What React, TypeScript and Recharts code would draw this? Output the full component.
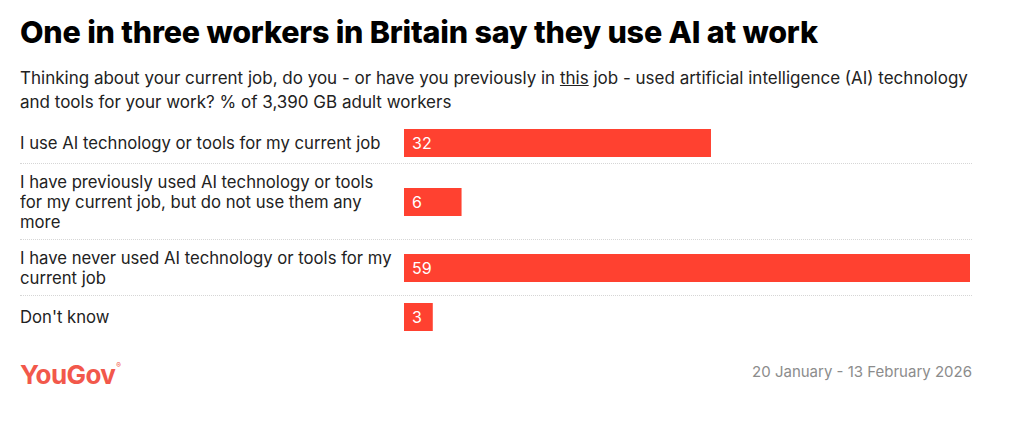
import React from 'react'
import { BarChart, Bar, XAxis, YAxis, LabelList } from 'recharts'

// answers, as they are drawn (line breaks as in the reference)
const answers = [
  'I use AI technology or tools for my current job',
  'I have previously used AI technology or tools\nfor my current job, but do not use them any\nmore',
  'I have never used AI technology or tools for my\ncurrent job',
  "Don't know",
]
const shares = [32, 6, 59, 3]

const RED = '#ff4130'
const FONT = 'Inter, "Noto Sans", sans-serif'

// chart height of a row; the dotted rule below adds 1px
const rowHeight = (label: string) => Math.max(41, label.split('\n').length * 20 + 15)

const LabelTick = (props: any) => {
  const { y, payload } = props
  const lines = String(payload.value).split('\n')
  return (
    <text x={0} y={y} fill="#222" fontSize={16.7} fontFamily={FONT}>
      {lines.map((l, i) => (
        <tspan key={i} x={0} y={y + (i - (lines.length - 1) / 2) * 20} dominantBaseline="central">
          {l}
        </tspan>
      ))}
    </text>
  )
}

function Row({ label, value, last }: { label: string; value: number; last: boolean }) {
  const h = rowHeight(label)
  return (
    <div style={{ width: 952, height: h, borderBottom: last ? 'none' : '1px dotted #d6d6d6' }}>
      <BarChart
        width={952}
        height={h}
        layout="vertical"
        data={[{ label, value }]}
        margin={{ top: 0, right: 2, bottom: 0, left: 0 }}
      >
        <XAxis type="number" domain={[0, 59]} hide />
        <YAxis
          type="category"
          dataKey="label"
          width={384}
          axisLine={false}
          tickLine={false}
          tick={<LabelTick />}
        />
        <Bar dataKey="value" fill={RED} barSize={28} isAnimationActive={false}>
          <LabelList
            dataKey="value"
            position="insideLeft"
            offset={8}
            fill="#fff"
            fontSize={16}
            fontFamily={FONT}
          />
        </Bar>
      </BarChart>
    </div>
  )
}

export default function App() {
  return (
    <div style={{ position: 'relative', width: 1008, height: 409, fontFamily: FONT, background: '#fff' }}>
      <div
        style={{
          position: 'absolute',
          left: 12,
          top: 6,
          fontSize: 30.5,
          fontWeight: 800,
          lineHeight: '36px',
          color: '#000',
          letterSpacing: -0.2,
          whiteSpace: 'nowrap',
        }}
      >
        One in three workers in Britain say they use AI at work
      </div>
      <div
        style={{
          position: 'absolute',
          left: 12,
          top: 58,
          fontSize: 17,
          lineHeight: '24px',
          color: '#222',
          whiteSpace: 'nowrap',
        }}
      >
        <div>
          Thinking about your current job, do you - or have you previously in <u>this</u> job - used
          artificial intelligence (AI) technology
        </div>
        <div>and tools for your work? % of 3,390 GB adult workers</div>
      </div>
      <div style={{ position: 'absolute', left: 12, top: 114 }}>
        {answers.map((a, i) => (
          <Row key={i} label={a} value={shares[i]} last={i === answers.length - 1} />
        ))}
      </div>
      <div
        style={{
          position: 'absolute',
          left: 12,
          top: 344,
          fontSize: 26,
          fontWeight: 700,
          letterSpacing: -0.6,
          color: '#f2584b',
          lineHeight: '28px',
        }}
      >
        YouGov<sup style={{ fontSize: 7, verticalAlign: 16, marginLeft: 1 }}>®</sup>
      </div>
      <div
        style={{
          position: 'absolute',
          right: 44,
          top: 352,
          fontSize: 15,
          color: '#8c8c8c',
          lineHeight: '24px',
        }}
      >
        20 January - 13 February 2026
      </div>
    </div>
  )
}
